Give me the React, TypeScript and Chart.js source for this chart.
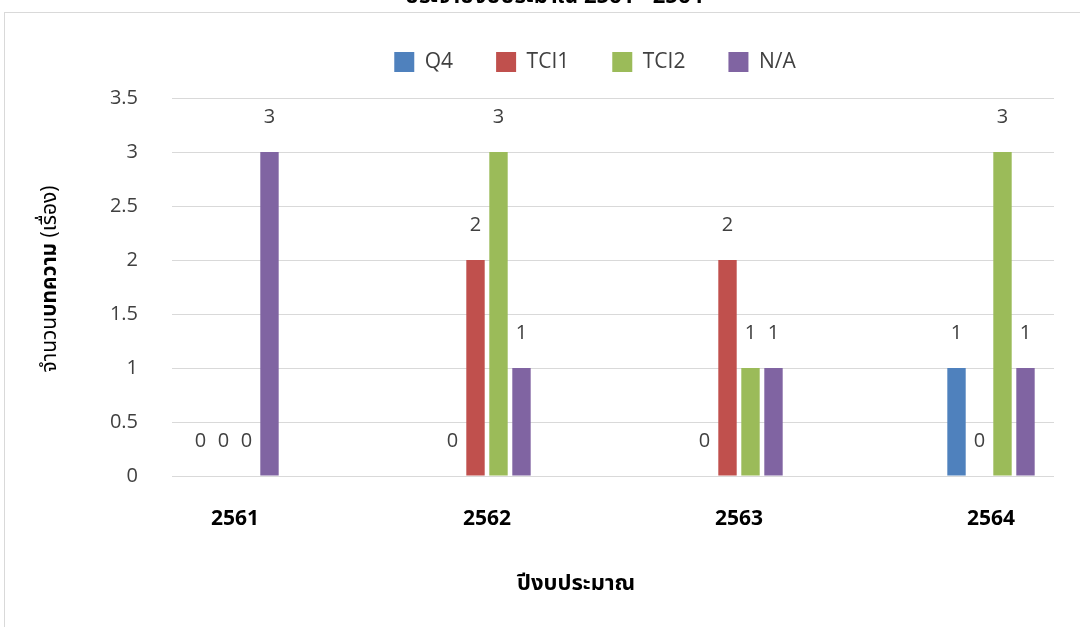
import React, { useEffect, useRef } from 'react';
import { Chart, registerables } from 'chart.js';

Chart.register(...registerables);

// ---- data ----
const years = ['2561', '2562', '2563', '2564'];
const seriesNames = ['Q4', 'TCI1', 'TCI2', 'N/A'];
const q4Values = [0, 0, 0, 1];
const tci1Values = [0, 2, 2, 0];
const tci2Values = [0, 3, 1, 3];
const naValues = [3, 1, 1, 1];
const seriesColors = ['#4F81BD', '#C0504D', '#9BBB59', '#8064A2'];
const yMin = 0;
const yMax = 3.5;
const yStep = 0.5;
const chartTitle = 'ประจำปีงบประมาณ 2561 - 2564';
const xAxisTitle = 'ปีงบประมาณ';
const yAxisTitleParts: [string, boolean][] = [
  ['จำนวน', false],
  ['บทความ', true],
  [' (เรื่อง)', false],
];

const FONT = '"Open Sans", "Noto Sans", "Noto Sans Thai", Tahoma, sans-serif';

const allSeries = [q4Values, tci1Values, tci2Values, naValues];

const TARGET_TOP = 98;

const decorPlugin = {
  id: 'decor',
  beforeDraw(chart: any) {
    const ctx = chart.ctx;
    ctx.save();
    ctx.strokeStyle = '#D9D9D9';
    ctx.lineWidth = 1;
    ctx.strokeRect(4.5, 12.5, 1200, 700);
    ctx.restore();
  },
  afterDraw(chart: any) {
    const ctx = chart.ctx;
    ctx.save();
    // cut-off chart title at the very top
    ctx.fillStyle = '#000000';
    ctx.font = `bold 22px ${FONT}`;
    ctx.textAlign = 'center';
    ctx.textBaseline = 'alphabetic';
    ctx.fillText(chartTitle, 554, 2.5);

    // x axis title
    ctx.font = `bold 22px ${FONT}`;
    ctx.textBaseline = 'middle';
    ctx.fillText(xAxisTitle, 576, 584);

    // y axis title (mixed weight, rotated)
    ctx.translate(50, 279);
    ctx.rotate(-Math.PI / 2);
    ctx.textAlign = 'left';
    ctx.textBaseline = 'middle';
    const widths = yAxisTitleParts.map(([t, b]) => {
      ctx.font = `${b ? 'bold ' : ''}21px ${FONT}`;
      return ctx.measureText(t).width;
    });
    const total = widths.reduce((a, b) => a + b, 0);
    let x = -total / 2;
    yAxisTitleParts.forEach(([t, b], i) => {
      ctx.font = `${b ? 'bold ' : ''}21px ${FONT}`;
      ctx.fillText(t, x, 0);
      x += widths[i];
    });
    ctx.restore();
  },
  afterDatasetsDraw(chart: any) {
    const ctx = chart.ctx;
    ctx.save();
    ctx.fillStyle = '#404040';
    ctx.font = `20px ${FONT}`;
    ctx.textAlign = 'center';
    ctx.textBaseline = 'middle';
    chart.data.datasets.forEach((ds: any, di: number) => {
      const meta = chart.getDatasetMeta(di);
      meta.data.forEach((el: any, i: number) => {
        const v = ds.data[i].y;
        ctx.fillText(String(v), el.x, el.y - 34.5);
      });
    });
    ctx.restore();
  },
};

export default function App() {
  const ref = useRef<HTMLCanvasElement | null>(null);

  useEffect(() => {
    if (!ref.current) return;
    const chart = new Chart(ref.current, {
      type: 'bar',
      data: {
        datasets: allSeries.map((vals, si) => ({
          label: seriesNames[si],
          data: vals.map((v, i) => ({ x: i, y: v })),
          backgroundColor: seriesColors[si],
          borderWidth: 0,
          categoryPercentage: 0.365,
          barPercentage: 0.8,
        })),
      },
      options: {
        responsive: false,
        maintainAspectRatio: false,
        animation: false,
        // negative right padding keeps the legend centred where the reference has it
        layout: { padding: { top: 8.5, left: 0, right: -110, bottom: 0 } },
        scales: {
          x: {
            type: 'linear',
            min: -0.25,
            max: 3.25,
            offset: false,
            grid: { display: false, drawTicks: false },
            border: { display: false },
            afterBuildTicks: (axis: any) => {
              axis.ticks = years.map((_, i) => ({ value: i }));
            },
            afterFit: (s: any) => {
              s.height = 151;
            },
            ticks: {
              autoSkip: false,
              maxRotation: 0,
              padding: 30,
              color: '#000000',
              font: { family: FONT, size: 21, weight: 'bold' },
              callback: (v: any) => years[v] ?? '',
            },
          },
          y: {
            min: yMin,
            max: yMax,
            border: { display: false },
            grid: { color: '#D9D9D9', lineWidth: 1, drawTicks: false },
            afterFit: (s: any) => {
              s.width = 172;
            },
            ticks: {
              stepSize: yStep,
              padding: 34,
              color: '#404040',
              font: { family: FONT, size: 20 },
              callback: (v: any) => String(Number(v)),
            },
          },
          yRight: {
            type: 'linear',
            position: 'right',
            display: true,
            grid: { display: false, drawTicks: false },
            border: { display: false },
            ticks: { display: false },
            afterFit: (s: any) => {
              s.width = 136;
            },
          },
        } as any,
        plugins: {
          legend: {
            position: 'top',
            labels: {
              boxWidth: 20,
              boxHeight: 20,
              padding: 43,
              color: '#404040',
              font: { family: FONT, size: 21 },
            },
          },
          subtitle: {
            display: true,
            text: '',
            weight: 500,
            font: { size: 1, lineHeight: 1 },
            padding: { top: 0, bottom: 14.5 },
          } as any,
          title: { display: false },
          tooltip: { enabled: false },
        },
      },
      plugins: [decorPlugin],
    });
    const dy = TARGET_TOP - chart.chartArea.top;
    if (Math.abs(dy) > 0.25) {
      const sub: any = chart.options.plugins!.subtitle;
      sub.padding = { top: 0, bottom: Math.max(0, 14.5 + dy) };
      chart.update();
    }
    return () => chart.destroy();
  }, []);

  return (
    <div
      style={{
        position: 'fixed',
        left: 0,
        top: 0,
        width: 1080,
        height: 627,
        overflow: 'hidden',
        background: '#ffffff',
      }}
    >
      <canvas ref={ref} width={1080} height={627} style={{ display: 'block' }} />
    </div>
  );
}
